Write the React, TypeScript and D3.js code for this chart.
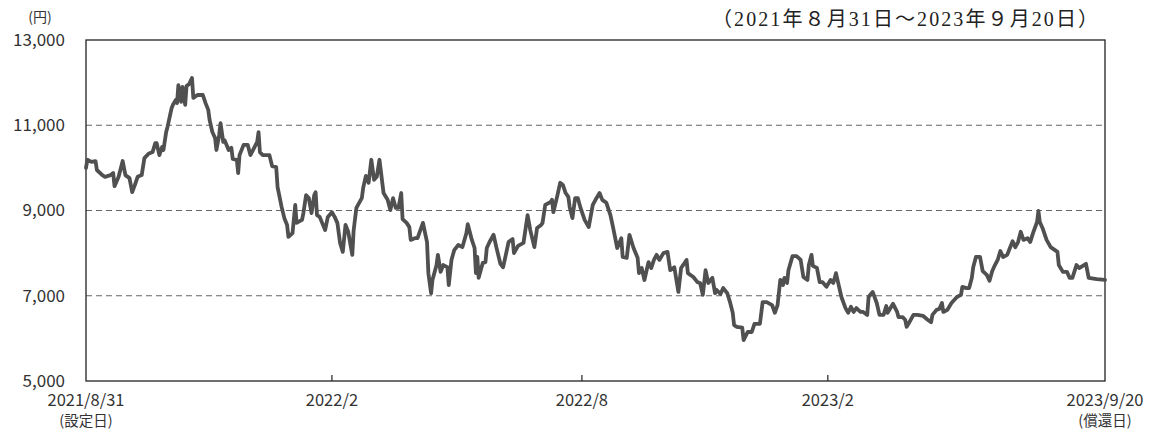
import * as d3 from 'd3';

// 基準価額の推移 (設定日からの経過日数 / 円)
const dayOffsets = [
    0, 1, 4, 7, 8, 12, 14, 18, 20, 21, 24, 27, 29, 32, 34, 36, 38, 41, 43, 46,
    49, 51, 52, 54, 56, 57, 59, 60, 63, 64, 66, 67, 68, 70, 71, 73, 74, 76, 78, 79,
    82, 86, 88, 90, 91, 93, 95, 96, 98, 99, 101, 102, 105, 107, 108, 111, 112, 113, 116, 119,
    121, 123, 126, 127, 128, 130, 135, 137, 140, 141, 144, 146, 148, 149, 152, 154, 155, 159, 160, 162,
    164, 166, 168, 169, 170, 172, 176, 178, 181, 183, 185, 187, 189, 191, 193, 196, 197, 199, 203, 204,
    206, 208, 210, 212, 214, 216, 219, 222, 224, 226, 228, 230, 232, 233, 236, 238, 239, 242, 244, 248,
    251, 252, 254, 255, 258, 259, 261, 263, 266, 267, 269, 271, 274, 277, 280, 281, 284, 286, 287, 288,
    289, 292, 294, 295, 297, 300, 302, 305, 307, 309, 311, 314, 315, 318, 322, 325, 327, 330, 332, 335,
    336, 338, 342, 343, 344, 347, 349, 351, 353, 355, 356, 358, 360, 362, 364, 367, 370, 373, 375, 378,
    380, 383, 386, 388, 391, 394, 395, 398, 400, 403, 406, 407, 409, 411, 414, 416, 418, 420, 422, 425,
    428, 430, 433, 436, 438, 442, 443, 447, 450, 452, 454, 456, 458, 461, 463, 464, 467, 469, 472, 474,
    476, 477, 479, 483, 484, 487, 490, 492, 496, 498, 501, 505, 507, 509, 511, 513, 514, 516, 517, 520,
    523, 526, 528, 531, 532, 534, 535, 538, 540, 542, 545, 548, 550, 552, 554, 556, 559, 561, 563, 565,
    567, 570, 572, 575, 576, 579, 582, 584, 587, 589, 590, 594, 597, 598, 601, 603, 604, 606, 609, 612,
    616, 619, 622, 623, 626, 628, 630, 631, 634, 637, 639, 641, 644, 645, 648, 650, 652, 653, 655, 658,
    660, 663, 665, 667, 669, 671, 673, 675, 678, 680, 682, 684, 686, 688, 690, 693, 695, 697, 700, 701,
    702, 704, 707, 710, 715, 716, 719, 722, 724, 726, 729, 731, 736, 738, 744, 750
];

const navValues = [
    10000, 10190, 10140, 10160, 9950, 9830, 9790, 9830, 9880, 9570, 9790, 10160, 9830, 9760, 9430, 9600, 9790, 9830, 10230, 10330,
    10370, 10580, 10580, 10300, 10490, 10420, 10840, 10960, 11400, 11480, 11590, 11520, 11940, 11550, 11900, 11480, 11920, 11970, 12110, 11640,
    11710, 11710, 11520, 11360, 11120, 10840, 10700, 10420, 10770, 11050, 10610, 10650, 10420, 10470, 10210, 10190, 9880, 10300, 10540, 10540,
    10300, 10420, 10610, 10840, 10370, 10300, 10300, 10040, 10020, 9550, 9080, 8820, 8660, 8380, 8470, 9130, 8710, 8780, 8940, 9360,
    9290, 8940, 9360, 9430, 8890, 8850, 8540, 8850, 8960, 8850, 8710, 8240, 8030, 8660, 8500, 7960, 8540, 9060, 9290, 9530,
    9810, 9650, 10190, 9720, 9790, 10190, 9410, 9250, 9010, 9290, 9060, 9060, 9410, 8800, 8710, 8610, 8310, 8350, 8350, 8710,
    8260, 7530, 7060, 7370, 7720, 7960, 7560, 7720, 7670, 7250, 7840, 8070, 8190, 8140, 8470, 8680, 8310, 8120, 7530, 7910,
    7420, 7770, 7790, 8120, 8260, 8430, 8140, 7750, 7670, 7960, 8260, 8330, 8000, 8170, 8240, 8890, 8540, 8140, 8590, 8660,
    8710, 9130, 9200, 9250, 8960, 9360, 9650, 9600, 9410, 9320, 9080, 8820, 9290, 9290, 9060, 8780, 8610, 9130, 9250, 9410,
    9250, 9180, 8890, 8590, 8120, 8350, 7910, 7890, 8430, 8120, 7890, 7530, 7650, 7370, 7790, 7650, 7840, 7960, 7840, 8000,
    8030, 7600, 7670, 7090, 7650, 7840, 7530, 7440, 7320, 7300, 7020, 7600, 7300, 7420, 7060, 7140, 7040, 7180, 7060, 6850,
    6600, 6310, 6270, 6250, 5960, 6150, 6150, 6340, 6340, 6850, 6850, 6780, 6600, 6780, 7370, 7250, 7420, 7300, 7600, 7930,
    7930, 7840, 7440, 7370, 7720, 7960, 7700, 7650, 7320, 7320, 7210, 7370, 7300, 7530, 7250, 6970, 6710, 6600, 6740, 6620,
    6710, 6620, 6620, 6550, 6970, 7090, 6830, 6550, 6550, 6760, 6600, 6810, 6620, 6500, 6500, 6430, 6270, 6380, 6550, 6550,
    6530, 6450, 6380, 6550, 6670, 6690, 6830, 6620, 6670, 6830, 6900, 6970, 7020, 7210, 7180, 7180, 7420, 7670, 7910, 7910,
    7580, 7490, 7350, 7580, 7720, 7840, 8050, 7910, 7960, 8120, 8280, 8140, 8260, 8500, 8310, 8350, 8260, 8470, 8730, 8990,
    8730, 8590, 8310, 8140, 8030, 7720, 7560, 7560, 7420, 7420, 7720, 7650, 7750, 7420, 7390, 7370
];

const yTicks = [5000, 7000, 9000, 11000, 13000];
const gridValues = [7000, 9000, 11000];

const START_DATE = new Date(2021, 7, 31);
const END_DATE = new Date(2023, 8, 20);
const xTickDates = [
    new Date(2021, 7, 31),
    new Date(2022, 1, 28),
    new Date(2022, 7, 31),
    new Date(2023, 1, 28),
    new Date(2023, 8, 20)
];
const xTickLabels = ['2021/8/31', '2022/2', '2022/8', '2023/2', '2023/9/20'];
const xTickSubLabels = ['(設定日)', '', '', '', '(償還日)'];

const TITLE = '（2021年８月31日～2023年９月20日）';
const UNIT = '(円)';

const CHART = {
    width: 1151,
    height: 430,
    margin: {left: 86, right: 46, top: 40, bottom: 49}
};

const SANS = '"Noto Sans CJK JP", "Noto Sans", sans-serif';
const SERIF = '"Liberation Serif", "Noto Sans CJK JP", serif';

export default function App() {
    const left = CHART.margin.left;
    const right = CHART.width - CHART.margin.right;
    const top = CHART.margin.top;
    const bottom = CHART.height - CHART.margin.bottom;

    const xScale = d3.scaleTime().domain([START_DATE, END_DATE]).range([left, right]);
    const yScale = d3.scaleLinear().domain([5000, 13000]).range([bottom, top]);

    const points = dayOffsets.map((d, i) => ({
        date: d3.timeDay.offset(START_DATE, d),
        value: navValues[i]
    }));

    const line = d3.line<{date: Date; value: number}>()
        .x((d) => xScale(d.date))
        .y((d) => yScale(d.value));

    const fmt = d3.format(',');

    return (
        <svg width={CHART.width} height={CHART.height}
            style={{position: 'absolute', left: 0, top: 0, background: '#fff'}}>
            {/* grid */}
            {gridValues.map((v) => (
                <line key={v} x1={left} x2={right} y1={yScale(v)} y2={yScale(v)}
                    stroke="#666" strokeWidth={1.2} strokeDasharray="6,4" />
            ))}

            {/* frame */}
            <rect x={left} y={top} width={right - left} height={bottom - top}
                fill="none" stroke="#222" strokeWidth={1.3} />

            {/* x ticks */}
            {xTickDates.slice(1, -1).map((d, i) => (
                <line key={i} x1={xScale(d)} x2={xScale(d)} y1={bottom} y2={bottom - 6}
                    stroke="#222" strokeWidth={1.2} />
            ))}

            {/* series */}
            <path d={line(points) || ''} fill="none" stroke="#505050" strokeWidth={3.8}
                strokeLinejoin="round" strokeLinecap="round" />

            {/* y labels */}
            {yTicks.map((v) => (
                <text key={v} x={65} y={yScale(v)} dy="0.35em" textAnchor="end"
                    fontFamily={SANS} fontSize={17} fill="#333">{fmt(v)}</text>
            ))}
            <text x={40} y={17} dy="0.35em" textAnchor="middle" fontFamily={SANS}
                fontSize={14} fill="#333">{UNIT}</text>

            {/* x labels */}
            {xTickDates.map((d, i) => (
                <g key={i}>
                    <text x={xScale(d)} y={400} dy="0.35em" textAnchor="middle"
                        fontFamily={SANS} fontSize={16.5} fill="#333">{xTickLabels[i]}</text>
                    {xTickSubLabels[i] && (
                        <text x={xScale(d)} y={421} dy="0.35em" textAnchor="middle"
                            fontFamily={SANS} fontSize={14.5} fill="#333">{xTickSubLabels[i]}</text>
                    )}
                </g>
            ))}

            {/* period */}
            <text x={1098} y={19} dy="0.35em" textAnchor="end" fontFamily={SERIF}
                fontSize={20} fill="#222" textLength={386} lengthAdjust="spacing">{TITLE}</text>
        </svg>
    );
}
